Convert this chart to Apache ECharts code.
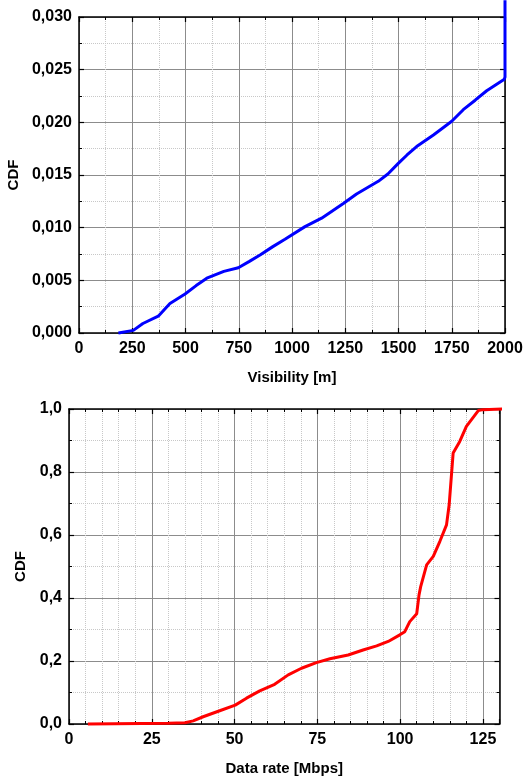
<!DOCTYPE html>
<html>
<head>
<meta charset="utf-8">
<script src="https://cdn.jsdelivr.net/npm/echarts@6/dist/echarts.min.js"></script>
<style>
  html, body { margin: 0; padding: 0; background: #fff; }
  #main { width: 523px; height: 781px; }
</style>
</head>
<body>
<div id="main"></div>
<script>
// visibility CDF (top panel)
var visX = [185, 255, 300, 372, 427, 498, 550, 600, 680, 748, 800, 850, 910, 967, 1061, 1139, 1241, 1303, 1405, 1450, 1499, 1540, 1585, 1664, 1750, 1804, 1860, 1914, 1997, 2000, 2000];
var visY = [0, 0.00025, 0.0009, 0.0016, 0.0028, 0.0037, 0.0045, 0.0052, 0.00585, 0.0062, 0.0068, 0.0074, 0.0082, 0.0089, 0.0101, 0.0109, 0.0123, 0.0132, 0.0144, 0.0151, 0.0161, 0.0169, 0.0177, 0.0188, 0.0201, 0.0212, 0.0221, 0.0230, 0.0241, 0.0243, 0.0316];

// data rate CDF (bottom panel)
var rateX = [5.7, 30, 35, 37.5, 40.5, 45.5, 50.2, 53.6, 57.6, 62.1, 66.2, 70.2, 74.7, 78.8, 84.3, 88.8, 92.9, 96.4, 99.9, 101.4, 102.9, 105, 105.7, 106.2, 108, 110, 112, 114, 114.8, 116, 118, 120, 123.6, 125, 131];
var rateY = [0, 0.002, 0.004, 0.01, 0.023, 0.042, 0.06, 0.082, 0.105, 0.126, 0.156, 0.177, 0.195, 0.207, 0.219, 0.235, 0.248, 0.262, 0.283, 0.293, 0.325, 0.35, 0.41, 0.436, 0.505, 0.532, 0.58, 0.632, 0.696, 0.86, 0.897, 0.945, 0.995, 0.998, 1.0];

var FONT = 'Liberation Sans, Arial, sans-serif';
var labelStyle = { color: '#000', fontSize: 16, fontWeight: 'bold', fontFamily: FONT };
var nameStyle = { color: '#000', fontSize: 15, fontWeight: 'bold', fontFamily: FONT };

function pairs(xs, ys) {
  var out = [];
  for (var i = 0; i < xs.length; i++) out.push([xs[i], ys[i]]);
  return out;
}

function mainAxis(o) {
  return {
    type: 'value', gridIndex: o.grid, position: o.pos,
    min: o.min, max: o.max, interval: o.interval,
    name: o.name, nameLocation: 'middle', nameGap: o.nameGap, nameTextStyle: nameStyle,
    axisLine: { show: true, onZero: false, lineStyle: { color: '#000', width: 1.5 } },
    axisTick: { show: true, inside: true, length: 5, lineStyle: { color: '#000', width: 1.2 } },
    minorTick: { show: true, splitNumber: o.minor, length: 3, lineStyle: { color: '#000' } },
    axisLabel: { show: true, margin: o.margin, formatter: o.fmt, showMaxLabel: o.showMax, textStyle: labelStyle },
    splitLine: { show: true, lineStyle: { color: '#8c8c8c', width: 1 } },
    minorSplitLine: { show: true, lineStyle: { color: '#c8c8c8', width: 1, type: 'dotted' } }
  };
}

function frameAxis(o) {
  return {
    type: 'value', gridIndex: o.grid, position: o.pos,
    min: o.min, max: o.max, interval: o.interval,
    axisLine: { show: true, onZero: false, lineStyle: { color: '#000', width: 1.5 } },
    axisTick: { show: true, inside: true, length: 5, lineStyle: { color: '#000', width: 1.2 } },
    minorTick: { show: true, splitNumber: o.minor, length: 3, lineStyle: { color: '#000' } },
    axisLabel: { show: false },
    splitLine: { show: false }
  };
}

var chart = echarts.init(document.getElementById('main'));
chart.setOption({
  backgroundColor: '#fff',
  animation: false,
  grid: [
    { left: 79, right: 18, top: 17, height: 316, outerBoundsMode: 'none', containLabel: false },
    { left: 69, right: 23.5, top: 409, height: 315, outerBoundsMode: 'none', containLabel: false }
  ],
  xAxis: [
    mainAxis({ grid: 0, pos: 'bottom', min: 0, max: 2000, interval: 250, minor: 2, name: 'Visibility [m]', nameGap: 37, margin: 8, showMax: true,
      fmt: function (v) { return String(v); } }),
    frameAxis({ grid: 0, pos: 'top', min: 0, max: 2000, interval: 250, minor: 2 }),
    mainAxis({ grid: 1, pos: 'bottom', min: 0, max: 130, interval: 25, minor: 5, name: 'Data rate [Mbps]', nameGap: 37, margin: 8, showMax: false,
      fmt: function (v) { return String(v); } }),
    frameAxis({ grid: 1, pos: 'top', min: 0, max: 130, interval: 25, minor: 5 })
  ],
  yAxis: [
    mainAxis({ grid: 0, pos: 'left', min: 0, max: 0.03, interval: 0.005, minor: 2, name: 'CDF', nameGap: 55, margin: 7, showMax: true,
      fmt: function (v) { return v.toFixed(3).replace('.', ','); } }),
    frameAxis({ grid: 0, pos: 'right', min: 0, max: 0.03, interval: 0.005, minor: 2 }),
    mainAxis({ grid: 1, pos: 'left', min: 0, max: 1, interval: 0.2, minor: 2, name: 'CDF', nameGap: 35, margin: 7, showMax: true,
      fmt: function (v) { return v.toFixed(1).replace('.', ','); } }),
    frameAxis({ grid: 1, pos: 'right', min: 0, max: 1, interval: 0.2, minor: 2 })
  ],
  series: [
    {
      type: 'line', xAxisIndex: 0, yAxisIndex: 0, data: pairs(visX, visY),
      showSymbol: false, clip: false, smooth: false,
      lineStyle: { color: '#0000ff', width: 3 }, z: 5
    },
    {
      type: 'line', xAxisIndex: 2, yAxisIndex: 2, data: pairs(rateX, rateY),
      showSymbol: false, clip: false, smooth: false,
      lineStyle: { color: '#ff0000', width: 3 }, z: 5
    }
  ]
});
</script>
</body>
</html>
